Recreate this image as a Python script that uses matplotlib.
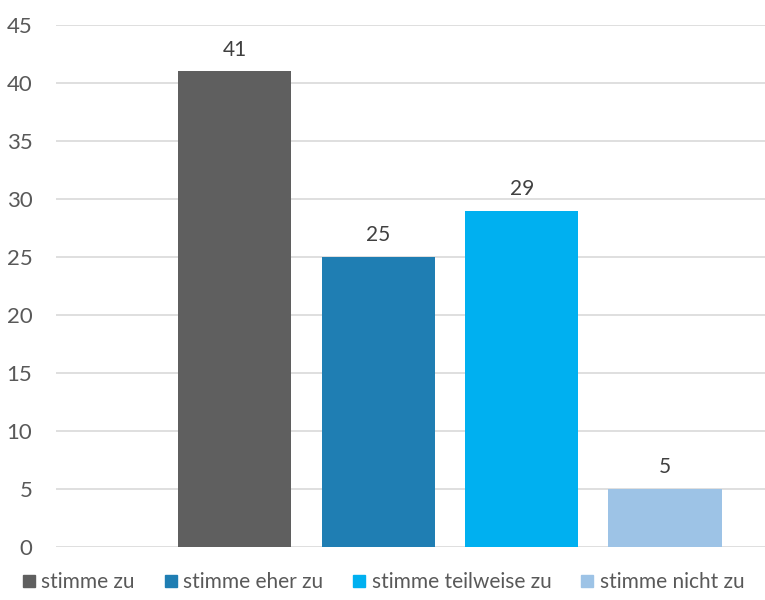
import matplotlib
matplotlib.use("Agg")
import matplotlib.pyplot as plt
from matplotlib.lines import Line2D

# === DATA ===
categories = ["stimme zu", "stimme eher zu", "stimme teilweise zu", "stimme nicht zu"]
values = [41, 25, 29, 5]
colors = ["#5f5f5f", "#1f7eb3", "#00b0f0", "#9dc3e6"]
yticks = [0, 5, 10, 15, 20, 25, 30, 35, 40, 45]

plt.rcParams['font.family'] = ['Lato', 'DejaVu Sans']
text_col = "#595959"

fig = plt.figure(figsize=(7.65, 6.0), dpi=100)
ax = fig.add_axes([56 / 765, 53 / 600, 1 - 56 / 765, 522 / 600])

x = list(range(len(values)))
bars = ax.bar(x, values, width=0.79, color=colors, zorder=3)
for xi, v in zip(x, values):
    ax.text(xi, v + 1.0, str(v), ha='center', va='bottom', fontsize=15, color="#404040")

ax.set_xlim(-1.247, 3.697)
ax.set_ylim(0, 45)
ax.set_yticks(yticks)
ax.set_yticklabels([str(t) for t in yticks], fontsize=16, color=text_col)
ax.set_xticks([])
ax.tick_params(axis='y', length=0, pad=17)
ax.grid(True, axis='y', color="#d9d9d9", linewidth=1.2, zorder=0)
for s in ax.spines.values():
    s.set_visible(False)

# === LEGEND ===
handles = [Line2D([0], [0], marker='s', linestyle='', markersize=8.6,
                  markerfacecolor=c, markeredgecolor=c) for c in colors]
fig.legend(handles, categories, loc='lower left', bbox_to_anchor=(0.005, -0.018),
           ncol=4, frameon=False, fontsize=15, handlelength=0.6, handletextpad=0.3,
           columnspacing=1.42, labelcolor=text_col)

plt.savefig("out.png", dpi=100)
